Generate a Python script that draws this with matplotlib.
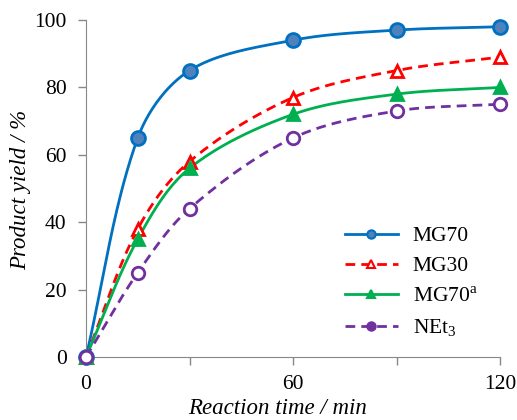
import numpy as np
import matplotlib
matplotlib.use("Agg")
import matplotlib.pyplot as plt

# Reaction times (min) and product yields (%) for each catalyst
time_min = [0, 15, 30, 60, 90, 120]
mg70 = [0, 65, 85, 94, 97, 98]
mg30 = [0, 38, 58, 77, 85, 89]
mg70a = [0, 35, 56, 72, 78, 80]
net3 = [0, 25, 44, 65, 73, 75]

series_labels = ["MG70", "MG30", "MG70$^{\\mathregular{a}}$", "NEt$_{\\mathregular{3}}$"]
x_ticks = [0, 30, 60, 90, 120]
x_tick_labels = ["0", "", "60", "", "120"]
y_ticks = [0, 20, 40, 60, 80, 100]

plt.rcParams["font.family"] = ["Liberation Serif", "DejaVu Serif"]
plt.rcParams["mathtext.fontset"] = "custom"
plt.rcParams["mathtext.rm"] = "Liberation Serif"


def smooth(x, y, n=40, k=1 / 3):
    """Smoothed line through the points: Bezier segments whose control
    handles are scaled by the lengths of the neighbouring segments."""
    x = np.asarray(x, float)
    y = np.asarray(y, float)
    pts = np.column_stack([x, y])
    pad = np.vstack([pts[:1], pts, pts[-1:]])
    xs, ys = [], []
    for i in range(len(pts) - 1):
        p0, p1, p2, p3 = pad[i], pad[i + 1], pad[i + 2], pad[i + 3]
        d01 = np.hypot(*(p1 - p0))
        d12 = np.hypot(*(p2 - p1))
        d23 = np.hypot(*(p3 - p2))
        c1 = p1 + (p2 - p0) * k * d12 / (d01 + d12)
        c2 = p2 - (p3 - p1) * k * d12 / (d12 + d23)
        s = np.linspace(0, 1, n)[:, None]
        b = ((1 - s) ** 3) * p1 + 3 * ((1 - s) ** 2) * s * c1 + 3 * (1 - s) * s ** 2 * c2 + s ** 3 * p2
        xs.append(b[:, 0])
        ys.append(b[:, 1])
    return np.concatenate(xs), np.concatenate(ys)


W, H = 517, 420
fig = plt.figure(figsize=(W / 100, H / 100), dpi=100)
ax = fig.add_axes([86 / W, 1 - 357 / H, (500 - 86) / W, (357 - 20) / H])

styles = [
    dict(data=mg70, color="#0070C0", ls="-", marker="o", mfc="#4F81BD", mec="#0070C0", ms=10),
    dict(data=mg30, color="#FF0000", ls=(0, (3.5, 2.2)), marker="^", mfc="white", mec="#FF0000", ms=9),
    dict(data=mg70a, color="#00B050", ls="-", marker="^", mfc="#00B050", mec="#00B050", ms=9),
    dict(data=net3, color="#7030A0", ls=(0, (3.5, 2.2)), marker="o", mfc="white", mec="#7030A0", ms=9),
]

for st, lab in zip(styles, series_labels):
    sx, sy = smooth(time_min, st["data"])
    ax.plot(sx, sy, color=st["color"], ls=st["ls"], lw=2.0, zorder=2)
    ax.plot(time_min, st["data"], ls="none", marker=st["marker"], ms=st["ms"],
            mfc=st["mfc"], mec=st["mec"], mew=2.0, zorder=3)
    ax.plot([], [], color=st["color"], ls=st["ls"], lw=2.0, marker=st["marker"],
            ms=6, mfc=st["mfc"] if st["marker"] == "^" or st["mfc"] != "white" else st["mec"],
            mec=st["mec"], mew=1.5, label=lab)

ax.set_xlim(0, 120)
ax.set_ylim(0, 100)
ax.set_xticks(x_ticks)
ax.set_xticklabels(x_tick_labels)
ax.set_yticks(y_ticks)
ax.tick_params(axis="both", labelsize=15.5, color="#888888", length=6, width=1)
ax.tick_params(axis="x", pad=7)
ax.tick_params(axis="y", pad=8)
for side in ("top", "right"):
    ax.spines[side].set_visible(False)
for side in ("left", "bottom"):
    ax.spines[side].set_color("#888888")

ax.set_xlabel("Reaction time / min", style="italic", fontsize=16.5)
ax.xaxis.set_label_coords((278 - 86) / (500 - 86), -(409 - 357) / (357 - 20), transform=ax.transAxes)
ax.xaxis.label.set_va("center")
ax.set_ylabel("Product yield / %", style="italic", fontsize=16.5)
ax.yaxis.set_label_coords(-(86 - 21) / (500 - 86), (357 - 190) / (357 - 20), transform=ax.transAxes)
ax.yaxis.label.set_va("center")

leg = ax.legend(loc="upper left", bbox_to_anchor=(345 / W, 1 - 226 / H),
                bbox_transform=fig.transFigure, frameon=False, borderpad=0, borderaxespad=0,
                fontsize=15.5, handlelength=2.45, labelspacing=0.48, handletextpad=0.7)

for line in ax.lines:
    line.set_clip_on(False)

fig.savefig("out.png", dpi=100)
